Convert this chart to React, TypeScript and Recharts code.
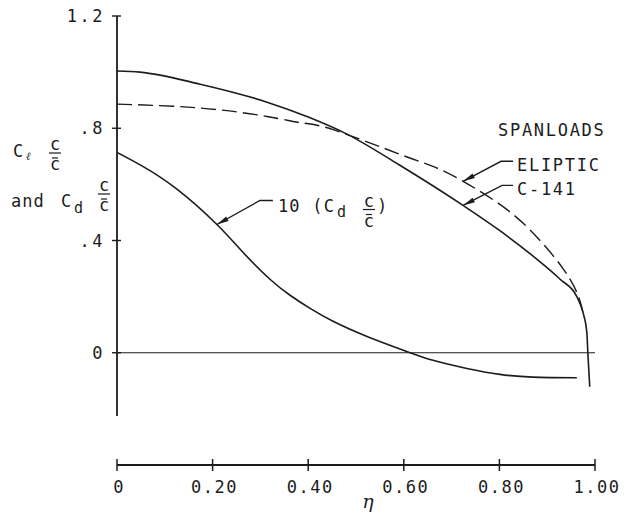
import { LineChart, Line, XAxis, YAxis, ReferenceLine, ReferenceDot } from 'recharts';

// spanwise station (eta) and section load values
const c141Eta = [0, 0.048, 0.174, 0.314, 0.4, 0.48, 0.59, 0.724, 0.801, 0.87, 0.927, 0.962, 0.975, 0.983, 0.985, 0.989];
const c141Load = [1.004, 1.0, 0.957, 0.893, 0.84, 0.78, 0.67, 0.525, 0.435, 0.345, 0.262, 0.2, 0.143, 0.071, 0, -0.121];

const ellipticEta = [0, 0.174, 0.314, 0.383, 0.452, 0.592, 0.661, 0.724, 0.816, 0.885, 0.933, 0.962, 0.975];
const ellipticLoad = [0.886, 0.872, 0.842, 0.82, 0.795, 0.707, 0.664, 0.611, 0.51, 0.4, 0.3, 0.215, 0.143];

const dragEta = [0, 0.054, 0.126, 0.209, 0.264, 0.32, 0.362, 0.404, 0.452, 0.523, 0.607, 0.661, 0.732, 0.801, 0.87, 0.962];
const dragLoad = [0.714, 0.664, 0.582, 0.457, 0.357, 0.262, 0.205, 0.158, 0.112, 0.058, 0.004, -0.027, -0.056, -0.077, -0.087, -0.089];

const etaTicks = [0, 0.2, 0.4, 0.6, 0.8, 1.0];
const etaTickLabels = ['0', '0.20', '0.40', '0.60', '0.80', '1.00'];
const yTicks = [0, 0.4, 0.8, 1.2];
const yTickLabels = ['0', '.4', '.8', '1.2'];

const ink = '#1c1c1c';
const mono = '"DejaVu Sans Mono", monospace';

const zip = (xs: number[], ys: number[]) => xs.map((eta, i) => ({ eta, v: ys[i] }));
const c141Rows = zip(c141Eta, c141Load);
const ellipticRows = zip(ellipticEta, ellipticLoad);
const dragRows = zip(dragEta, dragLoad);

function Frac({ x, top, size = 17 }: { x: number; top: number; size?: number }) {
  // c over c-bar, top = baseline of the upper c
  return (
    <g fontFamily={mono} fontSize={size} fill={ink}>
      <text x={x} y={top} textAnchor="middle">c</text>
      <line x1={x - 6} x2={x + 6} y1={top + 3} y2={top + 3} stroke={ink} strokeWidth={1.2} />
      <line x1={x - 3} x2={x + 3} y1={top + 8} y2={top + 8} stroke={ink} strokeWidth={1.2} />
      <text x={x} y={top + 20} textAnchor="middle">c</text>
    </g>
  );
}

function Pointer({ cx, cy, kx, ky, ex }: { cx: number; cy: number; kx: number; ky: number; ex: number }) {
  const a = Math.atan2(ky, kx);
  const len = 12;
  const w = 2.6;
  const bx = cx + Math.cos(a) * len;
  const by = cy + Math.sin(a) * len;
  const nx = -Math.sin(a) * w;
  const ny = Math.cos(a) * w;
  return (
    <g>
      <path d={`M${cx},${cy} L${cx + kx},${cy + ky} L${cx + ex},${cy + ky}`} fill="none" stroke={ink} strokeWidth={1.4} />
      <path d={`M${cx},${cy} L${bx + nx},${by + ny} L${bx - nx},${by - ny} Z`} fill={ink} />
    </g>
  );
}

function DragNote(p: any) {
  const { cx, cy } = p;
  return (
    <g>
      <Pointer cx={cx} cy={cy} kx={43} ky={-24} ex={56} />
      <g fontFamily={mono} fontSize={17} fill={ink} letterSpacing={1.2}>
        <text x={cx + 61} y={cy - 13}>10 (C</text>
        <text x={cx + 120} y={cy - 8} fontSize={15}>d</text>
        <text x={cx + 160} y={cy - 13}>)</text>
      </g>
      <Frac x={cx + 152} top={cy - 18} />
    </g>
  );
}

function EllipticNote(p: any) {
  const { cx, cy } = p;
  return (
    <g>
      <Pointer cx={cx} cy={cy} kx={38} ky={-20} ex={50} />
      <g fontFamily={mono} fontSize={17} fill={ink} letterSpacing={1.7}>
        <text x={cx + 35} y={cy - 45}>SPANLOADS</text>
        <text x={cx + 54} y={cy - 10}>ELIPTIC</text>
      </g>
    </g>
  );
}

function C141Note(p: any) {
  const { cx, cy } = p;
  return (
    <g>
      <Pointer cx={cx} cy={cy} kx={39} ky={-20} ex={50} />
      <text x={cx + 54} y={cy - 10} fontFamily={mono} fontSize={17} fill={ink} letterSpacing={1.7}>C-141</text>
    </g>
  );
}

function EtaTick(p: any) {
  const { x, y, index } = p;
  return (
    <g>
      <line x1={x} x2={x} y1={y - 6} y2={y + 6} stroke={ink} strokeWidth={1.5} />
      <text x={x + 2} y={y + 28} textAnchor="middle" fontFamily={mono} fontSize={17} fill={ink} letterSpacing={1.5}>
        {etaTickLabels[index]}
      </text>
    </g>
  );
}

function LoadTick(p: any) {
  const { x, y, index } = p;
  return (
    <g>
      <line x1={x + 7} x2={x + 16} y1={y} y2={y} stroke={ink} strokeWidth={1.4} />
      <text x={x} y={y} dy="0.36em" textAnchor="end" fontFamily={mono} fontSize={17} fill={ink} letterSpacing={2.5}>
        {yTickLabels[index]}
      </text>
    </g>
  );
}

function LoadLabel(p: any) {
  const x0 = p.viewBox ? p.viewBox.x : 0;
  return (
    <g fontFamily={mono} fill={ink}>
      <text x={x0 + 13} y={157} fontSize={17}>C</text>
      <text x={x0 + 26} y={160} fontSize={11} fontStyle="italic">ℓ</text>
      <Frac x={x0 + 55} top={150} />
      <text x={x0 + 11} y={207} fontSize={17} letterSpacing={1}>and</text>
      <text x={x0 + 61} y={207} fontSize={17}>C</text>
      <text x={x0 + 74} y={213} fontSize={15}>d</text>
      <Frac x={x0 + 104} top={191} />
    </g>
  );
}

export default function App() {
  return (
    <div style={{ position: 'absolute', left: 0, top: 0, width: 633, height: 514, background: '#fff' }}>
      <LineChart width={633} height={514} margin={{ top: 16, right: 38, left: 0, bottom: 0 }}>
        <XAxis
          type="number"
          dataKey="eta"
          domain={[0, 1]}
          ticks={etaTicks}
          allowDataOverflow
          height={49}
          axisLine={{ stroke: ink, strokeWidth: 2 }}
          tickLine={false}
          tickSize={0}
          tickMargin={0}
          tick={<EtaTick />}
          label={{ value: 'η', position: 'insideBottom', offset: 6, dx: 12, fontSize: 19, fontStyle: 'italic', fill: ink, fontFamily: '"DejaVu Serif", serif' }}
        />
        <YAxis
          type="number"
          domain={[-0.4, 1.2]}
          ticks={yTicks}
          width={117}
          axisLine={false}
          tickLine={false}
          tickSize={5}
          tickMargin={7}
          tick={<LoadTick />}
          label={<LoadLabel />}
        />
        <ReferenceLine segment={[{ x: 0, y: 1.2 }, { x: 0, y: -0.225 }]} stroke={ink} strokeWidth={1.8} ifOverflow="visible" />
        <ReferenceLine y={0} stroke={ink} strokeWidth={1.2} />
        <Line data={c141Rows} dataKey="v" type="monotone" stroke={ink} strokeWidth={1.6} dot={false} isAnimationActive={false} />
        <Line data={ellipticRows} dataKey="v" type="natural" stroke={ink} strokeWidth={1.4} strokeDasharray="15 6" dot={false} isAnimationActive={false} />
        <Line data={dragRows} dataKey="v" type="natural" stroke={ink} strokeWidth={1.6} dot={false} isAnimationActive={false} />
        <ReferenceDot x={0.209} y={0.457} r={0} shape={(p: any) => <DragNote {...p} />} />
        <ReferenceDot x={0.724} y={0.611} r={0} shape={(p: any) => <EllipticNote {...p} />} />
        <ReferenceDot x={0.724} y={0.525} r={0} shape={(p: any) => <C141Note {...p} />} />
      </LineChart>
    </div>
  );
}
